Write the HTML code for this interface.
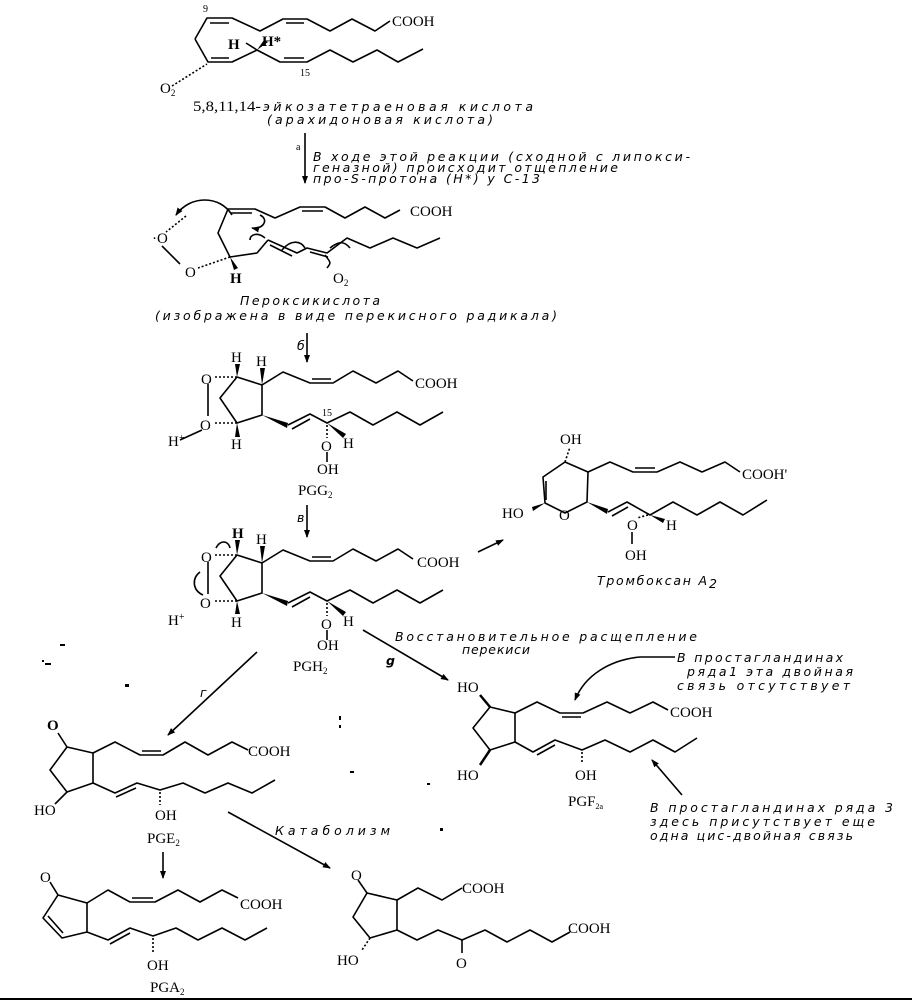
<!DOCTYPE html>
<html><head><meta charset="utf-8">
<style>
html,body{margin:0;padding:0;background:#fff;}
svg{display:block;}
.s{font-family:"Liberation Serif",serif;font-size:15px;fill:#000;}
.sm{font-family:"Liberation Serif",serif;font-size:10px;fill:#000;}
.i{font-family:"DejaVu Sans","Liberation Sans",sans-serif;font-style:italic;font-size:12.5px;fill:#000;}
</style></head><body>
<svg width="912" height="1001" viewBox="0 0 912 1001" xmlns="http://www.w3.org/2000/svg">
<defs>
<marker id="ah" markerWidth="8" markerHeight="8" refX="7" refY="4" orient="auto" markerUnits="userSpaceOnUse">
<path d="M0,1 L8,4 L0,7 z" fill="#000"/></marker>
</defs>
<g fill="none" stroke="#000" stroke-width="1.6" stroke-linejoin="round">

<!-- Structure A -->
<polyline points="195,39 207,18 232,18 260,31 283,19 307,19 330,31 352,19 375,31 390,21"/>
<line x1="210" y1="23" x2="229" y2="23"/><line x1="286" y1="23" x2="304" y2="23"/>
<polyline points="195,39 208,62 232,62 257,50 280,62 307,62 330,50 353,62 377,50 398,62 423,49"/>
<line x1="211" y1="58" x2="229" y2="58"/><line x1="284" y1="58" x2="304" y2="58"/>
<line x1="257" y1="50" x2="246" y2="43"/>
<line x1="172" y1="86" x2="207" y2="64" stroke-dasharray="2,2"/>

<line x1="305" y1="133" x2="305" y2="183" marker-end="url(#ah)"/>

<!-- Structure B -->
<polyline points="228,209 255,209 275,218 300,207 325,207 345,218 365,207 385,218 400,210"/>
<line x1="231" y1="213" x2="252" y2="213"/><line x1="302" y1="211" x2="323" y2="211"/>
<polyline points="228,209 218,233 230,257 257,253 268,240"/>
<polyline points="268,240 297,253 307,248 327,253 347,238 370,248 393,238 417,248 440,238"/>
<line x1="270" y1="245" x2="292" y2="256"/><line x1="310" y1="252" x2="328" y2="257"/>
<line x1="230" y1="257" x2="198" y2="268" stroke-dasharray="2,2"/>
<line x1="186" y1="216" x2="166" y2="232" stroke-dasharray="2,2"/>
<line x1="162" y1="246" x2="180" y2="264"/>
<path d="M232,215 C220,195 190,195 176,215" marker-end="url(#ah)"/>
<path d="M260,215 C270,220 262,230 252,228" marker-end="url(#ah)"/>
<path d="M265,238 C258,232 250,234 250,240" />
<path d="M282,250 C290,240 300,240 305,248"/>
<path d="M330,248 C340,240 345,242 350,248"/>
<path d="M325,255 C330,262 332,262 327,268"/>

<line x1="307" y1="333" x2="307" y2="362" marker-end="url(#ah)"/>

<!-- Structure C -->
<polyline points="237,377 262,385 262,415 237,423 220,398 237,377"/>
<line x1="237" y1="377" x2="214" y2="377" stroke-dasharray="2,2"/>
<line x1="237" y1="423" x2="214" y2="423" stroke-dasharray="2,2"/>
<line x1="208" y1="384" x2="208" y2="416"/>
<line x1="202" y1="430" x2="180" y2="440"/>
<polyline points="262,385 283,372 310,383 333,383 353,371 376,383 398,371 413,381"/>
<line x1="312" y1="379" x2="331" y2="379"/>
<polyline points="288,425 310,414 327,423 350,412 373,425 397,412 420,425 443,412"/>
<line x1="292" y1="429" x2="310" y2="419"/>
<line x1="327" y1="425" x2="327" y2="438" stroke-dasharray="2,2"/>
<line x1="327" y1="452" x2="327" y2="462"/>

<line x1="307" y1="505" x2="307" y2="537" marker-end="url(#ah)"/>

<!-- Structure D -->
<polyline points="237,555 262,563 262,593 237,601 220,576 237,555"/>
<line x1="237" y1="555" x2="214" y2="555" stroke-dasharray="2,2"/>
<line x1="237" y1="601" x2="214" y2="601" stroke-dasharray="2,2"/>
<line x1="208" y1="562" x2="208" y2="594"/>
<path d="M216,548 C220,540 228,540 230,548"/>
<path d="M203,595 C192,590 192,578 200,572"/>
<polyline points="262,563 283,550 310,561 333,561 353,549 376,561 398,549 413,559"/>
<line x1="312" y1="557" x2="331" y2="557"/>
<polyline points="288,603 310,592 327,601 350,590 373,603 397,590 420,603 443,590"/>
<line x1="292" y1="607" x2="310" y2="597"/>
<line x1="327" y1="603" x2="327" y2="616" stroke-dasharray="2,2"/>
<line x1="327" y1="630" x2="327" y2="640"/>

<line x1="478" y1="552" x2="503" y2="540" marker-end="url(#ah)"/>

<!-- Thromboxane -->
<polyline points="565,462 588,472 587,502 565,513 545,503 543,477 565,462"/>
<line x1="565" y1="462" x2="570" y2="447" stroke-dasharray="2,2"/>
<line x1="546" y1="481" x2="546" y2="500"/>
<polyline points="588,472 610,462 633,472 657,472 680,462 702,472 725,462 740,472"/>
<line x1="635" y1="468" x2="655" y2="468"/>
<polyline points="608,512 627,502 650,515 673,502 697,515 720,502 743,515 767,500"/>
<line x1="612" y1="516" x2="628" y2="507"/>
<line x1="648" y1="515" x2="637" y2="518" stroke-dasharray="2,2"/>
<line x1="632" y1="532" x2="632" y2="544"/>

<line x1="363" y1="630" x2="448" y2="680" marker-end="url(#ah)"/>
<line x1="257" y1="652" x2="168" y2="735" marker-end="url(#ah)"/>

<!-- PGF2a -->
<polyline points="490,707 515,713 515,742 490,750 473,728 490,707"/>
<line x1="490" y1="707" x2="480" y2="695" stroke-width="2.5"/>
<line x1="490" y1="750" x2="480" y2="765" stroke-width="2.5"/>
<polyline points="515,713 537,702 560,713 583,713 607,702 630,713 653,702 668,710"/>
<line x1="562" y1="717" x2="581" y2="717"/>
<polyline points="515,742 533,752 555,740 582,750 605,740 630,752 653,740 675,752 697,738"/>
<line x1="537" y1="755" x2="555" y2="745"/>
<line x1="582" y1="752" x2="582" y2="764" stroke-dasharray="2,2"/>
<path d="M675,657 L640,657 C610,660 585,675 575,700" marker-end="url(#ah)"/>
<line x1="682" y1="795" x2="652" y2="760" marker-end="url(#ah)"/>

<!-- PGE2 -->
<polyline points="67,747 93,753 93,783 67,792 50,770 67,747"/>
<line x1="67" y1="747" x2="58" y2="733"/>
<line x1="67" y1="792" x2="55" y2="804"/>
<polyline points="93,753 115,742 140,755 163,755 185,742 208,755 232,742 248,750"/>
<line x1="142" y1="751" x2="161" y2="751"/>
<polyline points="93,783 115,793 137,783 160,790 183,783 205,793 228,783 252,793 275,780"/>
<line x1="116" y1="797" x2="136" y2="788"/>
<line x1="160" y1="792" x2="160" y2="805" stroke-dasharray="2,2"/>
<line x1="163" y1="852" x2="163" y2="878" marker-end="url(#ah)"/>
<line x1="228" y1="812" x2="330" y2="868" marker-end="url(#ah)"/>

<!-- PGA2 -->
<polyline points="58,895 87,903 87,932 62,938 43,918 58,895"/>
<line x1="48" y1="916" x2="63" y2="933"/>
<line x1="58" y1="895" x2="50" y2="882"/>
<polyline points="87,903 108,890 130,902 155,902 178,890 200,902 222,890 238,898"/>
<line x1="132" y1="898" x2="153" y2="898"/>
<polyline points="87,932 108,940 130,928 153,936 176,928 198,940 222,928 245,940 267,928"/>
<line x1="110" y1="944" x2="130" y2="933"/>
<line x1="153" y1="938" x2="153" y2="952" stroke-dasharray="2,2"/>

<!-- catabolite -->
<polyline points="367,893 397,900 397,930 370,938 353,917 367,893"/>
<line x1="367" y1="893" x2="358" y2="880"/>
<line x1="370" y1="938" x2="362" y2="950" stroke-dasharray="2,2"/>
<polyline points="397,900 418,888 442,900 462,888"/>
<polyline points="397,930 417,940 438,930 462,940 485,930 507,942 530,930 552,942 570,932"/>
<line x1="462" y1="940" x2="462" y2="953"/>

<line x1="0" y1="999" x2="912" y2="999" stroke-width="2"/>
</g>

<g fill="#000">
<polygon points="257,50 268,42 264,40"/>
<polygon points="230,257 234,270 238,268"/>
<polygon points="237,377 235,364 240,364"/>
<polygon points="262,385 260,368 265,368"/>
<polygon points="237,423 235,437 240,437"/>
<polygon points="262,415 288,423 287,428"/>
<polygon points="327,423 343,438 346,434"/>
<polygon points="237,555 235,540 240,540"/>
<polygon points="262,563 260,546 265,546"/>
<polygon points="237,601 235,614 240,614"/>
<polygon points="262,593 288,601 287,606"/>
<polygon points="327,601 343,616 346,612"/>
<polygon points="545,503 532,507 533,511"/>
<polygon points="587,502 608,509 607,514"/>
<polygon points="650,515 663,523 665,519"/>
<rect x="45" y="663" width="6" height="2"/><rect x="60" y="644" width="5" height="2"/>
<rect x="42" y="660" width="2" height="2"/><rect x="125" y="684" width="4" height="3"/>
<rect x="339" y="716" width="2" height="4"/><rect x="339" y="725" width="2" height="3"/>
<rect x="350" y="771" width="4" height="2"/><rect x="427" y="783" width="3" height="2"/>
<rect x="440" y="828" width="3" height="3"/>
</g>

<!-- A -->
<text class="sm" x="203" y="12">9</text>
<text class="s" x="392" y="26">COOH</text>
<text class="s" x="228" y="49" font-weight="bold">H</text>
<text class="s" x="262" y="46" font-weight="bold">H*</text>
<text class="sm" x="300" y="76">15</text>
<text class="s" x="160" y="93">O<tspan font-size="9" dy="3">2</tspan></text>
<text class="s" x="193" y="111" font-size="14" textLength="68" lengthAdjust="spacingAndGlyphs">5,8,11,14-</text>
<text class="i" x="263" y="111" textLength="270" lengthAdjust="spacing">эйкозатетраеновая кислота</text>
<text class="i" x="267" y="124" textLength="226" lengthAdjust="spacing">(арахидоновая  кислота)</text>
<text class="sm" x="296" y="150" font-size="8">a</text>
<text class="i" x="313" y="161" textLength="377" lengthAdjust="spacing">В ходе этой реакции (сходной с липокси-</text>
<text class="i" x="313" y="172" textLength="305" lengthAdjust="spacing">геназной) происходит отщепление</text>
<text class="i" x="313" y="183" textLength="227" lengthAdjust="spacing">про-S-протона (H*) у С-13</text>

<!-- B -->
<text class="s" x="410" y="216">COOH</text>
<text class="s" x="152" y="243">·O</text>
<text class="s" x="185" y="277">O</text>
<text class="s" x="230" y="283" font-weight="bold">H</text>
<text class="s" x="333" y="283">O<tspan font-size="9" dy="3">2</tspan></text>
<text class="i" x="240" y="305" textLength="140" lengthAdjust="spacing">Пероксикислота</text>
<text class="i" x="155" y="320" textLength="402" lengthAdjust="spacing">(изображена в виде перекисного радикала)</text>

<!-- C -->
<text class="i" x="297" y="350">б</text>
<text class="s" x="231" y="362">H</text>
<text class="s" x="256" y="366">H</text>
<text class="s" x="201" y="384">O</text>
<text class="s" x="200" y="430">O</text>
<text class="s" x="168" y="446">H<tspan font-size="10" dy="-5">+</tspan></text>
<text class="s" x="231" y="449">H</text>
<text class="s" x="415" y="388">COOH</text>
<text class="sm" x="322" y="416">15</text>
<text class="s" x="343" y="448">H</text>
<text class="s" x="321" y="451">O</text>
<text class="s" x="317" y="474">OH</text>
<text class="s" x="298" y="495">PGG<tspan font-size="9" dy="3">2</tspan></text>

<!-- D -->
<text class="i" x="297" y="522">в</text>
<text class="s" x="232" y="538" font-weight="bold">H</text>
<text class="s" x="256" y="544">H</text>
<text class="s" x="201" y="562">O</text>
<text class="s" x="200" y="608">O</text>
<text class="s" x="168" y="625">H<tspan font-size="10" dy="-5">+</tspan></text>
<text class="s" x="231" y="627">H</text>
<text class="s" x="417" y="567">COOH</text>
<text class="s" x="343" y="626">H</text>
<text class="s" x="321" y="629">O</text>
<text class="s" x="317" y="650">OH</text>
<text class="s" x="293" y="671">PGH<tspan font-size="9" dy="3">2</tspan></text>

<!-- Thromboxane -->
<text class="s" x="560" y="444">OH</text>
<text class="s" x="742" y="479">COOH'</text>
<text class="s" x="502" y="518">HO</text>
<text class="s" x="559" y="520">O</text>
<text class="s" x="627" y="530">O</text>
<text class="s" x="666" y="530">H</text>
<text class="s" x="625" y="560">OH</text>
<text class="i" x="597" y="585" textLength="110" lengthAdjust="spacing">Тромбоксан A</text>
<text class="i" x="709" y="588" font-size="9">2</text>

<text class="i" x="395" y="641" textLength="302" lengthAdjust="spacing">Восстановительное расщепление</text>
<text class="i" x="462" y="654" textLength="68" lengthAdjust="spacing">перекиси</text>
<text class="i" x="386" y="665" font-weight="bold">g</text>
<text class="i" x="200" y="697">г</text>

<!-- PGF2a -->
<text class="s" x="457" y="692">HO</text>
<text class="s" x="670" y="717">COOH</text>
<text class="s" x="457" y="780">HO</text>
<text class="s" x="575" y="780">OH</text>
<text class="s" x="568" y="806">PGF<tspan font-size="8" dy="3">2a</tspan></text>
<text class="i" x="677" y="662" textLength="166" lengthAdjust="spacing">В простагландинах</text>
<text class="i" x="687" y="676" textLength="166" lengthAdjust="spacing">ряда1 эта двойная</text>
<text class="i" x="677" y="690" textLength="173" lengthAdjust="spacing">связь отсутствует</text>
<text class="i" x="650" y="812" textLength="243" lengthAdjust="spacing">В простагландинах ряда 3</text>
<text class="i" x="650" y="826" textLength="225" lengthAdjust="spacing">здесь присутствует еще</text>
<text class="i" x="650" y="840" textLength="203" lengthAdjust="spacing">одна цис-двойная связь</text>

<!-- PGE2 -->
<text class="s" x="47" y="730" font-weight="bold">O</text>
<text class="s" x="248" y="756">COOH</text>
<text class="s" x="34" y="815">HO</text>
<text class="s" x="155" y="820">OH</text>
<text class="s" x="147" y="843">PGE<tspan font-size="9" dy="3">2</tspan></text>
<text class="i" x="275" y="835" textLength="115" lengthAdjust="spacing">Катаболизм</text>

<!-- PGA2 -->
<text class="s" x="40" y="882">O</text>
<text class="s" x="240" y="909">COOH</text>
<text class="s" x="147" y="970">OH</text>
<text class="s" x="150" y="992">PGA<tspan font-size="9" dy="3">2</tspan></text>

<!-- catabolite -->
<text class="s" x="351" y="880">O</text>
<text class="s" x="462" y="893">COOH</text>
<text class="s" x="568" y="933">COOH</text>
<text class="s" x="337" y="965">HO</text>
<text class="s" x="456" y="968">O</text>
</svg>
</body></html>
